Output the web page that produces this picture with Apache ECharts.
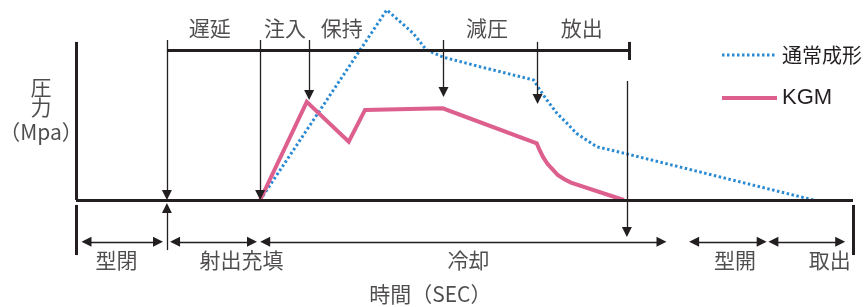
<!DOCTYPE html>
<html>
<head>
<meta charset="utf-8">
<script src="https://cdn.jsdelivr.net/npm/echarts@6/dist/echarts.min.js"></script>
<style>
  html, body { margin: 0; padding: 0; background: #fff; }
  #chart { width: 865px; height: 307px; }
</style>
</head>
<body>
<div id="chart"></div>
<script>
var chart = echarts.init(document.getElementById('chart'));

// 通常成形 (dotted blue)
var timeNormal = [23.7, 40.0, 43.4, 45.1, 47.3, 52.0, 58.9, 59.7, 60.6, 61.9, 63.2, 64.4, 65.7, 67.0, 69.2, 70.9, 94.9];
var pressNormal = [0, 118.8, 104.2, 93.8, 89.2, 83.3, 75.0, 68.8, 62.5, 54.2, 47.9, 41.7, 37.5, 33.3, 30.8, 28.8, 0];

// KGM (pink)
var timeKgm = [23.7, 29.7, 35.1, 37.2, 47.2, 59.3, 59.6, 60.1, 60.7, 61.4, 62.0, 62.8, 63.7, 70.5];
var pressKgm = [0, 61.3, 36.4, 56.3, 57.3, 35.4, 31.9, 26.9, 22.5, 18.8, 15.6, 13.1, 10.9, 0];

// event markers on time axis
var delayStart = 11.7;
var injectStart = 23.7;
var holdTime = 30.0;
var decompTime = 47.3;
var releaseTime = 59.4;
var cycleEnd = 71.2;
var coolEnd = 70.9;
var timeMax = 100;

var topLabels = ['遅延', '注入', '保持', '減圧', '放出'];
var topLabelTime = [17.2, 26.9, 34.2, 52.9, 65.1];

var phaseLabels = ['型閉', '射出充填', '冷却', '型開', '取出'];
var phaseStart = [0.7, 12.1, 23.7, 78.9, 89.1];
var phaseEnd = [11.2, 23.3, 76.0, 88.9, 99.0];
var phaseLabelTime = [5.2, 21.3, 50.5, 84.8, 97.0];

var ink = '#231f20';
var font = '"Noto Sans CJK JP", "Noto Sans", sans-serif';
var head = 0.65; // half arrow head in time units
var headY = 3.1;  // half arrow head in pressure units

function zip(a, b) {
    return a.map(function (v, i) { return [v, b[i]]; });
}

function seg(x1, y1, x2, y2, w, s1, s2) {
    return [
        { coord: [x1, y1], symbol: s1 || 'none', lineStyle: { width: w, color: ink, type: 'solid' } },
        { coord: [x2, y2], symbol: s2 || 'none' }
    ];
}

var lines = [
    // axes
    seg(0, 98.8, 0, 0, 3),
    seg(0, 0, timeMax, 0, 3),
    seg(0, -3.1, 0, -34.4, 3),
    seg(timeMax, -3.1, timeMax, -34.4, 3),
    // top bar
    seg(delayStart, 93.3, cycleEnd, 93.3, 3),
    seg(cycleEnd, 98.8, cycleEnd, 87.5, 3),
    // event arrows
    seg(delayStart, 100, delayStart, headY, 1.3, 'none', 'triangle'),
    seg(injectStart, 100, injectStart, headY, 1.3, 'none', 'triangle'),
    seg(holdTime, 100, holdTime, 62.5 + headY, 1.3, 'none', 'triangle'),
    seg(decompTime, 100, decompTime, 64.4 + headY, 1.3, 'none', 'triangle'),
    seg(releaseTime, 98.8, releaseTime, 60 + headY, 1.3, 'none', 'triangle'),
    seg(coolEnd, 74.4, coolEnd, -23.1 + headY, 1.3, 'none', 'triangle'),
    seg(delayStart, -31.3, delayStart, -1.9 - headY, 1.3, 'none', 'triangle')
];

phaseStart.forEach(function (s, i) {
    lines.push(seg(s + head, -26.1, phaseEnd[i] - head, -26.1, 1.3, 'triangle', 'triangle'));
});

var textItems = [];
topLabels.forEach(function (t, i) {
    textItems.push({ name: t, value: [topLabelTime[i], 107.5] });
});
phaseLabels.forEach(function (t, i) {
    textItems.push({ name: t, value: [phaseLabelTime[i], -37.5] });
});
textItems.push({ name: '時間（SEC）', value: [45.6, -58.8] });
textItems.push({ name: '圧', value: [-4.5, 70.8] });
textItems.push({ name: '力', value: [-4.5, 58.3] });
textItems.push({ name: '（Mpa）', value: [-4.5, 42.2] });

var option = {
    animation: false,
    grid: { left: 76, right: 12, top: 8, bottom: 11 },
    xAxis: { type: 'value', min: 0, max: timeMax, show: false },
    yAxis: { type: 'value', min: -60, max: 120, show: false },
    legend: {
        data: ['通常成形', {
            name: 'KGM',
            textStyle: { fontFamily: '"Liberation Sans", Arial, sans-serif', fontSize: 22 }
        }],
        orient: 'vertical',
        left: 720,
        top: 45,
        padding: 0,
        itemWidth: 55,
        itemHeight: 14,
        itemGap: 22,
        selectedMode: false,
        itemStyle: { opacity: 0 },
        lineStyle: { width: 'inherit' },
        textStyle: { fontSize: 20, color: ink, fontFamily: font }
    },
    series: [{
        name: '通常成形',
        type: 'line',
        data: zip(timeNormal, pressNormal),
        symbol: 'none',
        clip: false,
        z: 3,
        lineStyle: { color: '#2a8ad2', width: 3, type: [2.5, 2.5] },
        itemStyle: { color: '#2a8ad2' }
    }, {
        name: 'KGM',
        type: 'line',
        data: zip(timeKgm, pressKgm),
        symbol: 'none',
        clip: false,
        z: 3,
        lineStyle: { color: '#dd5f8d', width: 4, join: 'miter' },
        itemStyle: { color: '#dd5f8d' }
    }, {
        name: 'frame',
        type: 'line',
        data: [],
        z: 4,
        markLine: {
            silent: true,
            animation: false,
            symbol: ['none', 'none'],
            symbolSize: [10, 10],
            label: { show: false },
            emphasis: { disabled: true },
            itemStyle: { color: ink },
            data: lines
        }
    }, {
        name: 'texts',
        type: 'scatter',
        data: textItems,
        symbolSize: 1,
        clip: false,
        silent: true,
        itemStyle: { color: 'rgba(0,0,0,0)' },
        label: {
            show: true,
            position: 'inside',
            formatter: '{b}',
            fontSize: 21,
            color: ink,
            fontFamily: font
        }
    }]
};

chart.setOption(option);
</script>
</body>
</html>
